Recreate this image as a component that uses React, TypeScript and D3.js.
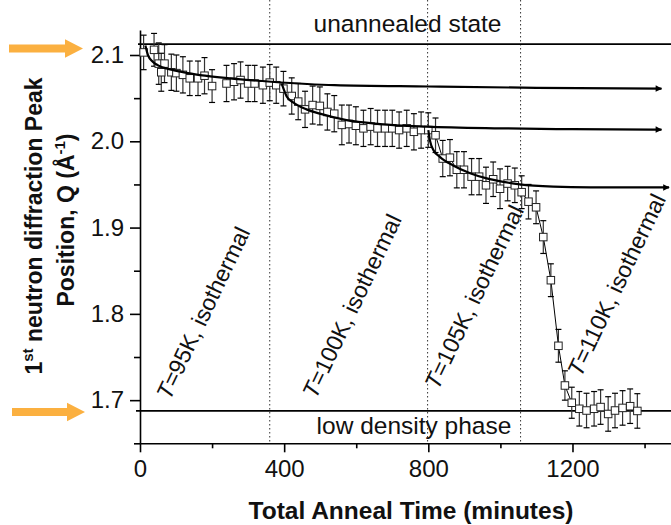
import React, { useEffect, useRef } from "react";
import * as d3 from "d3";

// ---- data ----
const times = [10, 39, 52, 59, 68, 87, 101, 119, 138, 161, 179, 200, 240, 261, 279, 300, 318, 341, 360, 378,
  398, 421, 439, 458, 479, 499, 520, 539, 560, 580, 599, 620, 640, 659, 680, 700, 719, 740, 760, 780, 800,
  820, 840, 860, 879, 899, 920, 941, 960, 980, 999, 1020, 1040, 1059, 1078, 1099, 1119, 1140, 1161, 1179, 1198,
  1219, 1239, 1260, 1278, 1299, 1318, 1339, 1360, 1380];
const peakQ = [2.103, 2.106, 2.090, 2.080, 2.090, 2.080, 2.079, 2.077, 2.073, 2.073, 2.076, 2.064, 2.067, 2.069, 2.071, 2.067, 2.067, 2.065, 2.068, 2.065,
  2.061, 2.0525, 2.046, 2.037, 2.042, 2.041, 2.034, 2.032, 2.019, 2.020, 2.018, 2.015, 2.017, 2.015, 2.015, 2.015, 2.013, 2.015, 2.011, 2.013, 2.013,
  2.007, 1.980, 1.981, 1.967, 1.967, 1.959, 1.959, 1.949, 1.956, 1.945, 1.951, 1.949, 1.941, 1.930, 1.9235, 1.889, 1.839, 1.763, 1.717, 1.697,
  1.690, 1.688, 1.690, 1.692, 1.684, 1.688, 1.691, 1.693, 1.6875];
const errQ = [0.02, 0.019, 0.024, 0.022, 0.022, 0.021, 0.021, 0.021, 0.02, 0.02, 0.021, 0.019, 0.021, 0.021, 0.021, 0.021, 0.021, 0.021, 0.021, 0.021,
  0.02, 0.021, 0.021, 0.021, 0.022, 0.022, 0.021, 0.021, 0.023, 0.022, 0.022, 0.021, 0.021, 0.021, 0.021, 0.021, 0.021, 0.021, 0.021, 0.021, 0.02,
  0.02, 0.021, 0.021, 0.021, 0.021, 0.021, 0.021, 0.021, 0.02, 0.023, 0.02, 0.02, 0.019, 0.02, 0.019, 0.019, 0.019, 0.019, 0.017, 0.018,
  0.02, 0.02, 0.02, 0.02, 0.02, 0.02, 0.02, 0.02, 0.02];

const fit95: [number, number][] = [[15, 2.111], [22, 2.100], [36, 2.092], [50, 2.088], [87, 2.083], [133, 2.079], [180, 2.076],
  [272, 2.072], [364, 2.069], [540, 2.065], [800, 2.0635], [1100, 2.062], [1447, 2.061]];
const fit100: [number, number][] = [[393, 2.067], [407, 2.052], [425, 2.045], [462, 2.037], [499, 2.032], [573, 2.0245],
  [666, 2.020], [795, 2.017], [1000, 2.015], [1200, 2.014], [1447, 2.0135]];
const fit105: [number, number][] = [[800, 2.013], [805, 2.000], [814, 1.990], [832, 1.982], [869, 1.972], [916, 1.963],
  [962, 1.957], [1008, 1.953], [1054, 1.950], [1147, 1.9474], [1250, 1.9466], [1468, 1.9465]];

const unannealedQ = 2.1125;
const lowDensityQ = 1.6875;
const stepTimes = [360, 798, 1056];
const isoLabels = ["95K", "100K", "105K", "110K"];
const isoLabelAt: [number, number][] = [[175, 1.801], [588, 1.809], [927, 1.8196], [1322, 1.8335]];
const xMajor = [0, 400, 800, 1200];
const xMinor = [200, 600, 1000, 1400];
const yMajor = [1.7, 1.8, 1.9, 2.0, 2.1];
const yMinor = [1.65, 1.75, 1.85, 1.95, 2.05];

const W = 671, H = 525;
const FONT = "'Liberation Sans', Arial, Helvetica, sans-serif";
const ORANGE = "#FBB040";

export default function App() {
  const x = d3.scaleLinear().domain([0, 1500]).range([140, 140 + 1500 * 0.3604]);
  const y = d3.scaleLinear().domain([1.65, 2.1]).range([443.3, 55]);
  const yTop = 2.129;
  const xAxisRef = useRef<SVGGElement>(null);
  const xMinorRef = useRef<SVGGElement>(null);
  const yAxisRef = useRef<SVGGElement>(null);
  const yMinorRef = useRef<SVGGElement>(null);

  useEffect(() => {
    const styleAxis = (g: d3.Selection<SVGGElement, unknown, null, undefined>) => {
      g.attr("font-family", FONT).attr("font-size", 24);
      g.selectAll("path.domain").attr("stroke", "#000").attr("stroke-width", 1.6);
      g.selectAll(".tick line").attr("stroke", "#000").attr("stroke-width", 1.6);
      g.selectAll(".tick text").attr("fill", "#111");
    };
    const xa = d3.select(xAxisRef.current!);
    xa.call(d3.axisBottom(x).tickValues(xMajor).tickSize(9).tickSizeOuter(0).tickPadding(8).tickFormat(d3.format("d")) as any);
    styleAxis(xa);
    const xm = d3.select(xMinorRef.current!);
    xm.call(d3.axisBottom(x).tickValues(xMinor).tickSize(5).tickSizeOuter(0).tickFormat(() => "") as any);
    xm.select("path.domain").remove();
    styleAxis(xm);

    const yScaleAxis = y.copy().domain([1.65, yTop]).range([y(1.65), y(yTop)]);
    const ya = d3.select(yAxisRef.current!);
    ya.call(d3.axisLeft(yScaleAxis).tickValues(yMajor).tickSize(10).tickSizeOuter(0).tickPadding(6).tickFormat(d3.format(".1f")) as any);
    styleAxis(ya);
    const ym = d3.select(yMinorRef.current!);
    ym.call(d3.axisLeft(yScaleAxis).tickValues(yMinor).tickSize(6).tickSizeOuter(0).tickFormat(() => "") as any);
    ym.select("path.domain").remove();
    styleAxis(ym);
  }, []);

  const line = d3.line<[number, number]>().x(d => x(d[0])).y(d => y(d[1])).curve(d3.curveMonotoneX);
  const pts = times.map((t, i) => ({ t, q: peakQ[i], e: errQ[i] }));
  const joined = pts.filter(p => p.t >= 800);
  const dataLine = d3.line<{ t: number; q: number }>().x(d => x(d.t)).y(d => y(d.q));
  const sq = 7.5;
  const cap = 3;

  const arrowPath = (cy: number, x0: number, x1: number) => {
    const hw = 4, hh = 9.2, hl = 18;
    return `M${x0},${cy - hw}H${x1 - hl}V${cy - hh}L${x1},${cy}L${x1 - hl},${cy + hh}V${cy + hw}H${x0}Z`;
  };

  return (
    <div style={{ position: "absolute", left: 0, top: 0, width: W, height: H, background: "#fff" }}>
      <svg width={W} height={H} viewBox={`0 0 ${W} ${H}`} style={{ display: "block" }}>
        <defs>
          <marker id="ah" viewBox="0 0 10 10" refX="9" refY="5" markerWidth="10" markerHeight="6.5"
            markerUnits="userSpaceOnUse" orient="auto">
            <path d="M0,0 L10,5 L0,10 z" fill="#000" />
          </marker>
        </defs>
        <rect x={0} y={0} width={W} height={H} fill="#fff" />

        {/* anneal step separators */}
        {stepTimes.map((t, i) => (
          <line key={i} x1={x(t)} x2={x(t)} y1={0} y2={y(1.65)} stroke="#333" strokeWidth={1}
            strokeDasharray="1.5,2.5" />
        ))}

        {/* reference levels */}
        <line x1={x(0) - 2} x2={W} y1={y(unannealedQ)} y2={y(unannealedQ)} stroke="#000" strokeWidth={1.8} />
        <line x1={x(0) - 4} x2={W} y1={y(lowDensityQ)} y2={y(lowDensityQ)} stroke="#000" strokeWidth={1.8} />
        <text x={407.5} y={32} fontFamily={FONT} fontSize={24.5} textAnchor="middle" fill="#111">unannealed state</text>
        <text x={414} y={434} fontFamily={FONT} fontSize={24.5} textAnchor="middle" fill="#111">low density phase</text>

        {/* isothermal labels */}
        {isoLabels.map((lab, i) => {
          const cx = x(isoLabelAt[i][0]);
          const cy = y(isoLabelAt[i][1]);
          return (
            <text key={lab} x={cx} y={cy} transform={`rotate(-64.5 ${cx} ${cy})`} fontFamily={FONT}
              fontSize={23} textAnchor="middle" dominantBaseline="central" fill="#111">
              <tspan fontStyle="italic">T</tspan>={lab}, isothermal
            </text>
          );
        })}

        {/* axes */}
        <g ref={xAxisRef} transform={`translate(0,${y(1.65)})`} />
        <g ref={xMinorRef} transform={`translate(0,${y(1.65)})`} />
        <g ref={yAxisRef} transform={`translate(${x(0)},0)`} />
        <g ref={yMinorRef} transform={`translate(${x(0)},0)`} />

        {/* data */}
        <path d={dataLine(joined) || ""} fill="none" stroke="#000" strokeWidth={1} />
        {pts.map((p, i) => (
          <g key={i} stroke="#333" strokeWidth={1.2}>
            <line x1={x(p.t)} x2={x(p.t)} y1={y(p.q - p.e)} y2={y(p.q + p.e)} />
            <line x1={x(p.t) - cap} x2={x(p.t) + cap} y1={y(p.q + p.e)} y2={y(p.q + p.e)} stroke="#000" />
            <line x1={x(p.t) - cap} x2={x(p.t) + cap} y1={y(p.q - p.e)} y2={y(p.q - p.e)} stroke="#000" />
          </g>
        ))}
        {pts.map((p, i) => (
          <rect key={i} x={x(p.t) - sq / 2} y={y(p.q) - sq / 2} width={sq} height={sq} fill="#fff"
            stroke="#222" strokeWidth={1} />
        ))}

        {/* fitted relaxation curves */}
        {[fit95, fit100, fit105].map((f, i) => (
          <path key={i} d={line(f) || ""} fill="none" stroke="#000" strokeWidth={2.2} markerEnd="url(#ah)" />
        ))}

        {/* orange pointers */}
        <path d={arrowPath(48.5, 9, 83)} fill={ORANGE} />
        <path d={arrowPath(412, 12, 85)} fill={ORANGE} />

        {/* axis titles */}
        <text x={411} y={519} fontFamily={FONT} fontSize={24.5} fontWeight="bold" textAnchor="middle" fill="#111">
          Total Anneal Time (minutes)
        </text>
        <text transform="translate(41.5,226) rotate(-90)" fontFamily={FONT} fontSize={23} fontWeight="bold"
          textAnchor="middle" fill="#111">
          1<tspan fontSize={15} dy={-9}>st</tspan><tspan dy={9}> neutron diffraction Peak</tspan>
        </text>
        <text transform="translate(73.5,220) rotate(-90)" fontFamily={FONT} fontSize={23} fontWeight="bold"
          textAnchor="middle" fill="#111">
          Position, Q (Å<tspan fontSize={15} dy={-9}>-1</tspan><tspan dy={9}>)</tspan>
        </text>
      </svg>
    </div>
  );
}
